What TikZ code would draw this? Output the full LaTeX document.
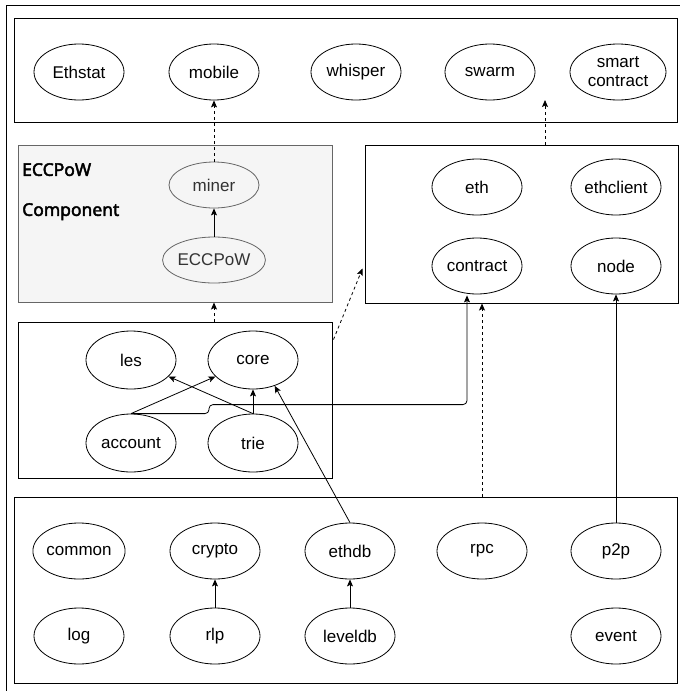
\documentclass[tikz,border=0pt]{standalone}
\usepackage{fontspec}
\setmainfont{Liberation Sans}
\newfontfamily\labelfont[FakeBold=2.5]{Noto Sans}
\usetikzlibrary{shapes.geometric}
\usetikzlibrary{arrows.meta}
\usetikzlibrary{calc}
\usetikzlibrary{positioning}

\definecolor{eccfill}{HTML}{F5F5F5}
\definecolor{eccline}{HTML}{666666}
\definecolor{ecctext}{HTML}{333333}

\begin{document}
\begin{tikzpicture}
[x=1pt,y=-1pt,>={Stealth[length=7pt,width=6pt,inset=1.5pt]},%
  pkg/.style={draw,ellipse,line width=0.8pt,fill=white,minimum width=90pt,
    minimum height=56pt,inner sep=0pt,align=center,font=\fontsize{17}{19}\selectfont},
  eccpkg/.style={pkg,draw=eccline,fill=eccfill,text=ecctext,minimum height=46pt},
  layer/.style={draw,line width=1pt,inner sep=0pt},
  dep/.style={->,line width=0.8pt},
  dashdep/.style={dep,dash pattern=on 3pt off 3pt}]
\useasboundingbox (0,0) rectangle (680,691);
\draw[line width=0.6pt] (6,691) -- (6,5) -- (680,5);
%% layers
\node[layer,minimum width=663pt,minimum height=104pt] (apps) at (345.5,70) {};
\node[layer,draw=eccline,fill=eccfill,minimum width=314pt,minimum height=157pt] (eccbox) at (175,223.5) {};
\node[layer,minimum width=313pt,minimum height=158pt] (ethbox) at (521.5,224) {};
\node[layer,minimum width=314pt,minimum height=156pt] (corebox) at (175,400) {};
\node[layer,minimum width=663pt,minimum height=186pt] (basebox) at (345.5,590) {};
%% packages
\node[pkg] (ethstat) at (79,72) {Ethstat};
\node[pkg] (mobile) at (214,72) {mobile};
\node[pkg] (whisper) at (356,72) {whisper};
\node[pkg] (swarm) at (490,72) {swarm};
\node[pkg,minimum width=96pt] (smart) at (618,72) {smart\\contract};
\node[font=\labelfont\fontsize{17.5}{40}\selectfont,anchor=north west,
  align=left,inner sep=0pt] (ecclabel) at (22,163) {ECCPoW\\Component};
\node[eccpkg] (miner) at (214,185) {miner};
\node[eccpkg] (eccpow) at (214,260) {ECCPoW};
\node[pkg] (eth) at (477,187) {eth};
\node[pkg] (ethclient) at (616,187) {ethclient};
\node[pkg] (contract) at (477,266) {contract};
\node[pkg] (node) at (616,266) {node};
\node[pkg,minimum height=58pt] (les) at (131,360) {les};
\node[pkg,minimum height=58pt] (core) at (253,360) {core};
\node[pkg,minimum height=58pt] (account) at (131,443) {account};
\node[pkg,minimum height=58pt] (trie) at (253,443) {trie};
\node[pkg] (common) at (79,551) {common};
\node[pkg] (crypto) at (215,551) {crypto};
\node[pkg] (ethdb) at (350,551) {ethdb};
\node[pkg] (rpc) at (482,551) {rpc};
\node[pkg] (p2p) at (616,551) {p2p};
\node[pkg] (log) at (79,636) {log};
\node[pkg] (rlp) at (215,636) {rlp};
\node[pkg] (leveldb) at (350,636) {leveldb};
\node[pkg] (event) at (616,636) {event};
\coordinate (gap) at (545,100);
%% dependencies
\draw[dashdep] (miner) -- (mobile);
\draw[dashdep] (ethbox.north -| gap) -- (gap);
\draw[dashdep] (corebox.north -| eccpow) -- (eccbox.south -| eccpow);
\draw[dashdep] ($(corebox.north east)+(1,18)$) -- ($(ethbox.south west)+(-2,-35)$);
\draw[dashdep] (basebox.north -| rpc) -- (ethbox.south -| rpc);
\draw[dep,rounded corners=4pt] (account.north) -- ++(78,0) -- ++(0,-9)
  -| ($(contract.south)+(-10,1)$);
\path[dep]
(eccpow) edge (miner)
(account.north) edge (core)
(trie.north) edge (core)
(trie.north) edge (les)
(ethdb.north) edge (core.-50)
(rlp) edge (crypto)
(leveldb) edge (ethdb)
(p2p) edge (node);
\end{tikzpicture}
\end{document}
